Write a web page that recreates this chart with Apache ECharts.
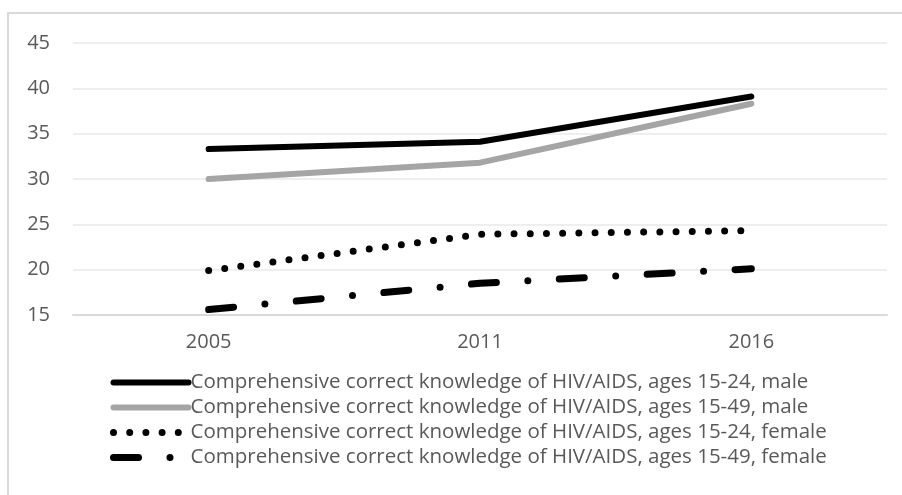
<!DOCTYPE html>
<html>
<head>
<meta charset="utf-8">
<script src="https://cdn.jsdelivr.net/npm/echarts@6/dist/echarts.min.js"></script>
<style>
  html, body { margin: 0; padding: 0; background: #fff; }
  #chart { width: 902px; height: 495px; }
</style>
</head>
<body>
<div id="chart"></div>
<script>
// Survey years
const years = ['2005', '2011', '2016'];

// Share with comprehensive correct knowledge of HIV/AIDS (%)
const male1524 = [33.3, 34.1, 39.1];
const male1549 = [30.0, 31.8, 38.3];
const female1524 = [19.9, 23.9, 24.3];
const female1549 = [15.6, 18.5, 20.1];

const seriesNames = [
  'Comprehensive correct knowledge of HIV/AIDS, ages 15-24, male',
  'Comprehensive correct knowledge of HIV/AIDS, ages 15-49, male',
  'Comprehensive correct knowledge of HIV/AIDS, ages 15-24, female',
  'Comprehensive correct knowledge of HIV/AIDS, ages 15-49, female'
];

// Value axis ticks
const yMin = 15, yMax = 45, yStep = 5;

const textColor = '#595959';
const fontFamily = '"Open Sans", "Noto Sans", sans-serif';

function lineSeries(name, data, color, width, type) {
  return {
    name: name,
    type: 'line',
    data: data,
    symbol: 'none',
    showSymbol: false,
    lineStyle: { color: color, width: width, type: type, cap: 'round', join: 'round' },
    itemStyle: { color: color },
    emphasis: { disabled: true },
    animation: false
  };
}

const chart = echarts.init(document.getElementById('chart'), null, { renderer: 'canvas' });
chart.setOption({
  backgroundColor: '#ffffff',
  animation: false,
  graphic: [{
    type: 'rect',
    shape: { x: 8, y: 13, width: 1200, height: 1200 },
    style: { fill: 'none', stroke: '#d9d9d9', lineWidth: 2 },
    silent: true
  }],
  grid: { left: 73, right: 15, top: 43, bottom: 180, containLabel: false },
  xAxis: {
    type: 'category',
    data: years,
    boundaryGap: true,
    axisLine: { lineStyle: { color: '#d9d9d9', width: 2 } },
    axisTick: { show: false },
    axisLabel: { color: textColor, fontSize: 20, fontFamily: fontFamily, margin: 17 }
  },
  yAxis: {
    type: 'value',
    min: yMin, max: yMax, interval: yStep,
    axisLine: { show: false },
    axisTick: { show: false },
    splitLine: { lineStyle: { color: '#e8e8e8', width: 1.5 } },
    axisLabel: { color: textColor, fontSize: 20, fontFamily: fontFamily, margin: 23 }
  },
  legend: {
    orient: 'vertical',
    left: 105,
    top: 367,
    itemWidth: 75,
    itemHeight: 12,
    itemGap: 4,
    selectedMode: false,
    itemStyle: { opacity: 0 },
    lineStyle: { width: 'inherit', type: 'inherit', cap: 'inherit', opacity: 1 },
    textStyle: { color: textColor, fontSize: 20.5, fontFamily: fontFamily, padding: [0, 0, 0, -3] },
    data: seriesNames
  },
  series: [
    lineSeries(seriesNames[0], male1524, '#000000', 6, 'solid'),
    lineSeries(seriesNames[1], male1549, '#a5a5a5', 6, 'solid'),
    lineSeries(seriesNames[2], female1524, '#000000', 7, [0, 16.2]),
    lineSeries(seriesNames[3], female1549, '#000000', 7, [25, 31.5, 0, 31.5])
  ]
});
</script>
</body>
</html>
